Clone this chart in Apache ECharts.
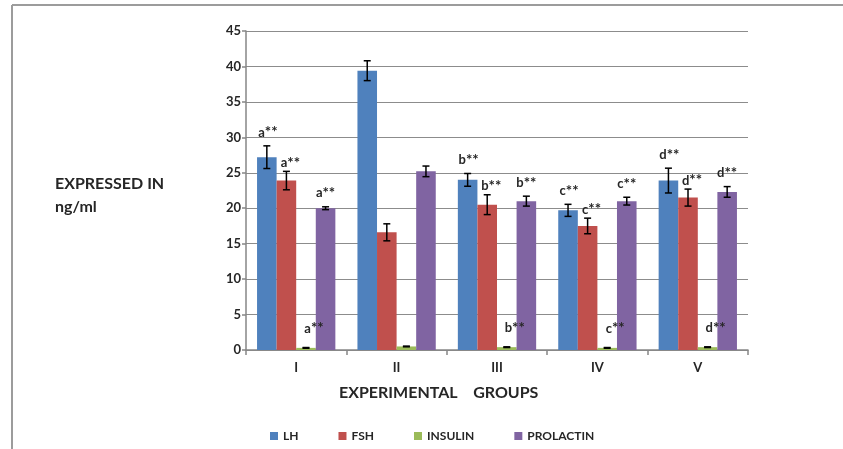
<!DOCTYPE html>
<html>
<head>
<meta charset="utf-8">
<script src="https://cdn.jsdelivr.net/npm/echarts@6/dist/echarts.min.js"></script>
<style>
html,body{margin:0;padding:0;background:#fff;}
#c{width:843px;height:449px;}
</style>
</head>
<body>
<div id="c"></div>
<script>
var categories = ['I', 'II', 'III', 'IV', 'V'];
var seriesNames = ['LH', 'FSH', 'INSULIN', 'PROLACTIN'];
var lhValues = [27.2, 39.4, 24.0, 19.7, 23.9];
var fshValues = [23.9, 16.6, 20.5, 17.5, 21.5];
var insulinValues = [0.3, 0.5, 0.4, 0.3, 0.4];
var prolactinValues = [20.0, 25.2, 21.0, 21.0, 22.3];
var lhErrors = [1.6, 1.4, 0.9, 0.85, 1.75];
var fshErrors = [1.3, 1.2, 1.4, 1.1, 1.2];
var insulinErrors = [0.05, 0.05, 0.05, 0.05, 0.05];
var prolactinErrors = [0.2, 0.75, 0.7, 0.55, 0.75];
var lhNotes = ['a', '', 'b', 'c', 'd'];
var fshNotes = ['a', '', 'b', 'c', 'd'];
var insulinNotes = ['a', '', 'b', 'c', 'd'];
var prolactinNotes = ['a', '', 'b', 'c', 'd'];
var noteMark = '**';
var yTicks = [0, 5, 10, 15, 20, 25, 30, 35, 40, 45];

var FONT = 'Lato';
var colors = ['#4F81BD', '#C0504D', '#9BBB59', '#8064A2'];
var values = [lhValues, fshValues, insulinValues, prolactinValues];
var errors = [lhErrors, fshErrors, insulinErrors, prolactinErrors];
var notes = [lhNotes, fshNotes, insulinNotes, prolactinNotes];
var gapRatio = 0.22;
var noteDx = [1, 4, 8, 0];

var chart = echarts.init(document.getElementById('c'), null, {renderer: 'canvas'});

var series = [];
seriesNames.forEach(function (name, i) {
  series.push({
    name: name,
    type: 'bar',
    data: values[i],
    barGap: '0%',
    barCategoryGap: (gapRatio * 100) + '%',
    itemStyle: {color: colors[i]},
    z: 2
  });
});
seriesNames.forEach(function (name, i) {
  var d = categories.map(function (c, k) {
    return [k, values[i][k], errors[i][k]];
  });
  series.push({
    type: 'custom',
    name: name + '_err',
    data: d,
    z: 5,
    silent: true,
    encode: {x: 0, y: 1},
    renderItem: function (params, api) {
      var k = api.value(0);
      var v = api.value(1);
      var e = api.value(2);
      var note = notes[i][params.dataIndex];
      var band = api.size([1, 0])[0];
      var bw = band * (1 - gapRatio) / 4;
      var base = api.coord([k, v]);
      var cx = base[0] + (i - 1.5) * bw;
      var top = api.coord([k, v + e])[1];
      var bot = api.coord([k, v - e])[1];
      var cap = 3.5;
      var st = {stroke: '#000', lineWidth: 1.5};
      var children = [
        {type: 'line', shape: {x1: cx, y1: top, x2: cx, y2: bot}, style: st},
        {type: 'line', shape: {x1: cx - cap, y1: top, x2: cx + cap, y2: top}, style: st},
        {type: 'line', shape: {x1: cx - cap, y1: bot, x2: cx + cap, y2: bot}, style: st}
      ];
      if (note) {
        var ty = (i === 2) ? base[1] - 12 : top - (i === 1 ? 1 : 6);
        children.push({
          type: 'text',
          style: {
            text: '{l|' + note + '}{s|' + noteMark + '}',
            x: cx + noteDx[i],
            y: ty,
            align: 'center',
            verticalAlign: 'bottom',
            rich: {
              l: {fontFamily: FONT, fontWeight: 'bold', fontSize: 13, fill: '#262626', color: '#262626'},
              s: {fontFamily: FONT, fontWeight: 'bold', fontSize: 15, fill: '#262626', color: '#262626'}
            }
          }
        });
      }
      return {type: 'group', children: children};
    }
  });
});

var option = {
  animation: false,
  backgroundColor: '#fff',
  grid: {left: 246, right: 95, top: 31, bottom: 99, containLabel: false},
  legend: {
    data: seriesNames,
    left: 265,
    top: 425,
    icon: 'rect',
    itemWidth: 8,
    itemHeight: 8,
    itemGap: 40,
    textStyle: {fontFamily: FONT, fontWeight: 'bold', fontSize: 12, color: '#262626'}
  },
  xAxis: {
    type: 'category',
    data: categories,
    axisLine: {lineStyle: {color: '#868686', width: 1.5}},
    axisTick: {show: true, alignWithLabel: false, length: 5, lineStyle: {color: '#868686', width: 1.5}},
    axisLabel: {fontFamily: FONT, fontWeight: 'bold', fontSize: 13, color: '#262626', margin: 11}
  },
  yAxis: {
    type: 'value',
    min: yTicks[0],
    max: yTicks[yTicks.length - 1],
    interval: yTicks[1] - yTicks[0],
    axisLine: {show: true, lineStyle: {color: '#868686', width: 1.5}},
    axisTick: {show: true, length: 4, lineStyle: {color: '#868686', width: 1.5}},
    splitLine: {lineStyle: {color: '#8c8c8c', width: 1.2}},
    axisLabel: {fontFamily: FONT, fontWeight: 'bold', fontSize: 13, color: '#262626', margin: 5}
  },
  graphic: [
    {type: 'line', shape: {x1: 12, y1: 5, x2: 843, y2: 5}, style: {stroke: '#9c9c9c', lineWidth: 2}},
    {type: 'line', shape: {x1: 12, y1: 5, x2: 12, y2: 449}, style: {stroke: '#9c9c9c', lineWidth: 2}},
    {type: 'text', left: 55, top: 176, style: {text: 'EXPRESSED IN', font: 'bold 16px ' + FONT, fill: '#262626'}},
    {type: 'text', left: 55, top: 199, style: {text: 'ng/ml', font: 'bold 16px ' + FONT, fill: '#262626'}},
    {type: 'text', left: 339, top: 385, style: {text: 'EXPERIMENTAL    GROUPS', font: 'bold 16px ' + FONT, fill: '#262626'}}
  ],
  series: series
};
chart.setOption(option);
</script>
</body>
</html>
